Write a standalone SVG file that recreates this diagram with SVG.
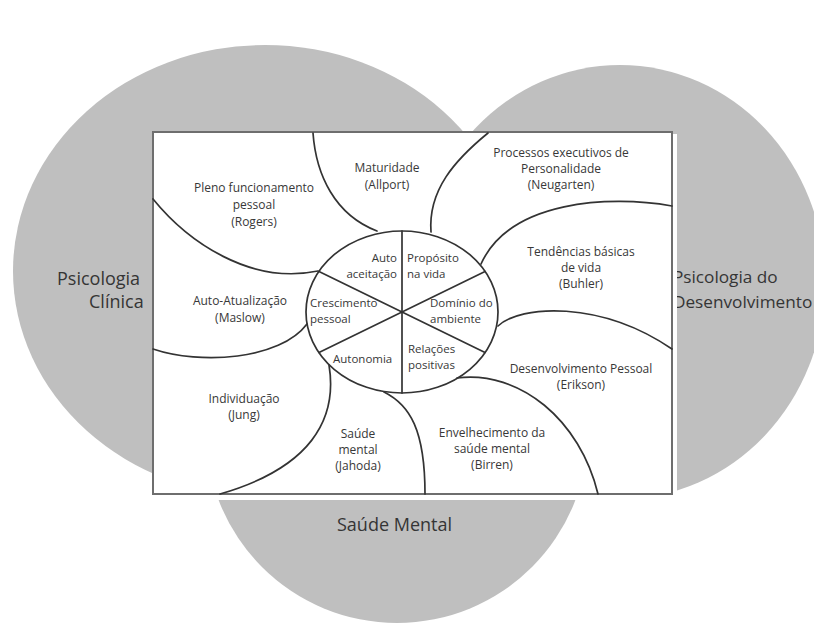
<svg xmlns="http://www.w3.org/2000/svg" width="814" height="625" viewBox="0 0 814 625">
<style>
.area{fill:#bfbfbf}
.big{font-family:"Open Sans","Liberation Sans",sans-serif;font-size:18px;fill:#353535}
.lbl{font-family:"Open Sans","Liberation Sans",sans-serif;font-size:12px;fill:#383838;text-anchor:middle}
.in{font-family:"Open Sans","Liberation Sans",sans-serif;font-size:11.5px;fill:#383838}
.ln{fill:none;stroke:#333;stroke-width:1.7;stroke-linecap:round}
</style>
<rect width="814" height="625" fill="#fff"/>
<g id="areas">
  <ellipse class="area" cx="265" cy="271" rx="252" ry="226"/>
  <ellipse class="area" cx="620" cy="282" rx="205" ry="217"/>
  <circle class="area" cx="397" cy="432" r="191"/>
</g>
<g id="area-labels">
  <text class="big" x="57" y="285">Psicologia</text>
  <text class="big" x="89" y="308">Clínica</text>
  <text class="big" x="673" y="283" style="font-size:17.2px">Psicologia do</text>
  <text class="big" x="673" y="308" style="font-size:17.2px">Desenvolvimento</text>
  <text class="big" x="337" y="531">Saúde Mental</text>
</g>
<g id="frame">
  <rect x="155" y="134" width="522" height="366" fill="#fff"/>
  <rect x="153" y="132" width="519" height="362" fill="#fff" stroke="#6e6e6e" stroke-width="2"/>
</g>
<g id="connectors">
  <path class="ln" d="M153,199 C188,242 250,285 318,271"/>
  <path class="ln" d="M313,133 C316,175 335,215 377,231"/>
  <path class="ln" d="M488,133 C455,160 428,190 431,232"/>
  <path class="ln" d="M672,206 C610,195 510,200 481,264"/>
  <path class="ln" d="M498,326 C520,305 600,300 672,349"/>
  <path class="ln" d="M457,378 C520,370 580,420 598,494"/>
  <path class="ln" d="M384,392 C410,405 425,430 425,494"/>
  <path class="ln" d="M329,365 C338,420 310,468 220,494"/>
  <path class="ln" d="M153,349 C200,365 280,360 307,324"/>
</g>
<g id="wheel">
  <ellipse class="ln" cx="402" cy="312" rx="96" ry="81"/>
  <line class="ln" x1="402" y1="231" x2="402" y2="393"/>
  <line class="ln" x1="319" y1="271.5" x2="485" y2="352.5"/>
  <line class="ln" x1="485" y1="271.5" x2="319" y2="352.5"/>
  <text class="in" x="397" y="262" text-anchor="end">Auto</text>
  <text class="in" x="397" y="278" text-anchor="end">aceitação</text>
  <text class="in" x="407" y="262">Propósito</text>
  <text class="in" x="407" y="278">na vida</text>
  <text class="in" x="310" y="307">Crescimento</text>
  <text class="in" x="310" y="323">pessoal</text>
  <text class="in" x="430" y="307">Domínio do</text>
  <text class="in" x="430" y="323">ambiente</text>
  <text class="in" x="333" y="363">Autonomia</text>
  <text class="in" x="408" y="353">Relações</text>
  <text class="in" x="408" y="369">positivas</text>
</g>
<g id="rogers"><text class="lbl"><tspan x="254" y="192">Pleno funcionamento</tspan><tspan x="254" y="209">pessoal</tspan><tspan x="254" y="226">(Rogers)</tspan></text></g>
<g id="allport"><text class="lbl"><tspan x="387" y="172">Maturidade</tspan><tspan x="387" y="189">(Allport)</tspan></text></g>
<g id="neugarten"><text class="lbl"><tspan x="561" y="157">Processos executivos de</tspan><tspan x="561" y="173">Personalidade</tspan><tspan x="561" y="189">(Neugarten)</tspan></text></g>
<g id="buhler"><text class="lbl"><tspan x="581" y="256">Tendências básicas</tspan><tspan x="581" y="272">de vida</tspan><tspan x="581" y="288">(Buhler)</tspan></text></g>
<g id="erikson"><text class="lbl"><tspan x="581" y="373">Desenvolvimento Pessoal</tspan><tspan x="581" y="389">(Erikson)</tspan></text></g>
<g id="birren"><text class="lbl"><tspan x="492" y="437">Envelhecimento da</tspan><tspan x="492" y="453">saúde mental</tspan><tspan x="492" y="469">(Birren)</tspan></text></g>
<g id="jahoda"><text class="lbl"><tspan x="358" y="438">Saúde</tspan><tspan x="358" y="454">mental</tspan><tspan x="358" y="470">(Jahoda)</tspan></text></g>
<g id="jung"><text class="lbl"><tspan x="244" y="403">Individuação</tspan><tspan x="244" y="419">(Jung)</tspan></text></g>
<g id="maslow"><text class="lbl"><tspan x="240" y="305">Auto-Atualização</tspan><tspan x="240" y="322">(Maslow)</tspan></text></g>
</svg>
